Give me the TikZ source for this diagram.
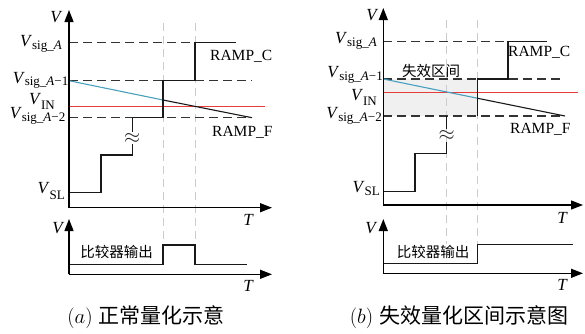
\documentclass[tikz,border=0pt]{standalone}
\usepackage{fontspec}
\setmainfont{Liberation Serif}
\newfontfamily\cjk{Noto Sans CJK SC}
\usetikzlibrary{arrows.meta}
\definecolor{rampblue}{RGB}{70,160,190}
\definecolor{vinred}{RGB}{230,60,60}
\newcommand\Vlab[2]{\textit{V}\raisebox{-#1pt}{\fontsize{13}{13}\selectfont #2}}
\tikzset{
  axis/.style={line width=1.3pt,-{Triangle[length=12pt,width=9pt]}},
  level/.style={dash pattern=on 9pt off 5pt,line width=1.1pt,draw=black!80},
  guide/.style={dash pattern=on 8pt off 5pt,line width=0.9pt,draw=black!20},
  sig/.style={line width=1.1pt,draw=black!90},
  lab/.style={font=\fontsize{17}{17}\selectfont,inner sep=0pt},
  ramp/.style={font=\fontsize{15.5}{15.5}\selectfont,inner sep=0pt},
  cn/.style={font=\cjk\fontsize{14.5}{14.5}\selectfont,inner sep=0pt},
  captext/.style={font=\fontsize{21}{21}\selectfont,inner sep=0pt},
  brk/.style={font=\fontsize{20}{20}\selectfont,inner sep=0pt,text=black!85},
  vin/.style={draw=vinred,line width=1pt}
}
\begin{document}
\begin{tikzpicture}[x=1pt,y=-1pt]
\useasboundingbox (0,0) rectangle (585,333);
% ================= panel (a) =================
\coordinate (ao) at (69,207.7);
\coordinate (ay) at (69,10);
\coordinate (ax) at (272,207.7);
% guides
\draw[guide] (163,23) -- (163,245);
\draw[guide] (195,23) -- (195,245);
% levels
\draw[level] (69,42.7) -- (195,42.7);
\draw[level] (69,80.7) -- (252,80.7);
\draw[level] (69,117.7) -- (252,117.7);
\draw[vin] (69,106) -- (265,106);
% ramp F
\coordinate (afs) at (69,80.7);
\coordinate (afm) at (163,100);
\coordinate (afe) at (252,117.7);
\draw[rampblue,line width=1.1pt] (afs) -- (afm);
\draw[sig] (afm) -- (afe);
% ramp C staircase
\draw[sig] (69,192.7) -- (101,192.7) -- (101,155) -- (132.3,155) -- (132.3,144);
\draw[sig] (132.3,131.5) -- (132.3,117.7) -- (163,117.7) -- (163,80.7) -- (195,80.7) -- (195,42.7) -- (236,42.7);
\node[brk] (abrk) at (132.3,138) {$\approx$};
% axes
\draw[axis] (ao) -- (ay);
\draw[axis] (ao) -- (ax);
% labels
\node[lab,anchor=base] (aV) at (56.5,22) {\textit{V}};
\node[lab,anchor=base] (aT) at (248.5,225) {\textit{T}};
\node[lab,anchor=base east] (al1) at (62,46) {\Vlab{3}{sig\_\textit{A}}};
\node[lab,anchor=base east] (al2) at (68.5,83) {\Vlab{2.5}{sig\_\textit{A}−1}};
\node[lab,anchor=base east] (al3) at (55,104) {\Vlab{5.5}{IN}};
\node[lab,anchor=base east] (al4) at (65.5,118.5) {\Vlab{3}{sig\_\textit{A}−2}};
\node[lab,anchor=base east] (al5) at (65,193) {\Vlab{6}{SL}};
\node[ramp,anchor=base west] (arc) at (210,60) {RAMP\_C};
\node[ramp,anchor=base west] (arf) at (212,136) {RAMP\_F};
% lower panel (a)
\coordinate (bo) at (69,274.3);
\draw[sig] (69,264.3) -- (163,264.3) -- (163,245) -- (195,245) -- (195,264.3) -- (247,264.3);
\draw[axis] (bo) -- (69,219);
\draw[axis] (bo) -- (272,274.3);
\node[lab,anchor=base] (bV) at (58.5,233) {\textit{V}};
\node[lab,anchor=base] (bT) at (248.5,291) {\textit{T}};
\node[cn] (bcmp) at (116.5,251.5) {比较器输出};
\node[captext] (capa) at (146,317.5) {$(a)$\hspace{6pt}{\cjk 正常量化示意}};
% ================= panel (b) =================
\coordinate (co) at (383.3,205);
\fill[black!6] (383.3,79) rectangle (477.7,116);
\draw[guide] (446.7,20) -- (446.7,244);
\draw[guide] (477.7,20) -- (477.7,244);
\draw[level] (383.3,41.7) -- (508,41.7);
\draw[level] (383.3,79) -- (565,79);
\draw[level] (383.3,116) -- (565,116);
\draw[vin] (383.3,92) -- (578,92);
\coordinate (cfs) at (383.3,79);
\coordinate (cfm) at (477.7,98.3);
\coordinate (cfe) at (565,116);
\draw[rampblue,line width=1.1pt] (cfs) -- (cfm);
\draw[sig] (cfm) -- (cfe);
\draw[sig] (383.3,191.7) -- (415,191.7) -- (415,153.3) -- (446.7,153.3) -- (446.7,142);
\draw[sig] (446.7,129) -- (446.7,116);
\draw[sig] (477.7,116) -- (477.7,79) -- (508,79) -- (508,41.7) -- (546.7,41.7);
\node[brk] (cbrk) at (446.7,135.5) {$\approx$};
\draw[axis] (co) -- (383.3,8);
\draw[axis] (co) -- (583,205);
\node[lab,anchor=base] (cV) at (372.5,20) {\textit{V}};
\node[lab,anchor=base] (cT) at (562.5,223) {\textit{T}};
\node[lab,anchor=base east] (cl1) at (377,43.3) {\Vlab{3}{sig\_\textit{A}}};
\node[lab,anchor=base east] (cl2) at (383,77) {\Vlab{3}{sig\_\textit{A}−1}};
\node[lab,anchor=base east] (cl3) at (377,100) {\Vlab{5}{IN}};
\node[lab,anchor=base east] (cl4) at (382,118) {\Vlab{3}{sig\_\textit{A}−2}};
\node[lab,anchor=base east] (cl5) at (380,192) {\Vlab{3}{SL}};
\node[ramp,anchor=base west] (crc) at (508,56.7) {RAMP\_C};
\node[ramp,anchor=base west] (crf) at (510,133) {RAMP\_F};
\node[cn] (cfail) at (431,71) {失效区间};
% lower panel (b)
\coordinate (do) at (383.3,273.3);
\draw[sig] (383.3,263.3) -- (477.7,263.3) -- (477.7,244.3) -- (573,244.3);
\draw[axis] (do) -- (383.3,219);
\draw[axis] (do) -- (583,273.3);
\node[lab,anchor=base] (dV) at (371.5,233) {\textit{V}};
\node[lab,anchor=base] (dT) at (562.5,290) {\textit{T}};
\node[cn] (dcmp) at (433,251.5) {比较器输出};
\node[captext] (capb) at (459,317.5) {$(b)$\hspace{6pt}{\cjk 失效量化区间示意图}};
\end{tikzpicture}
\end{document}
